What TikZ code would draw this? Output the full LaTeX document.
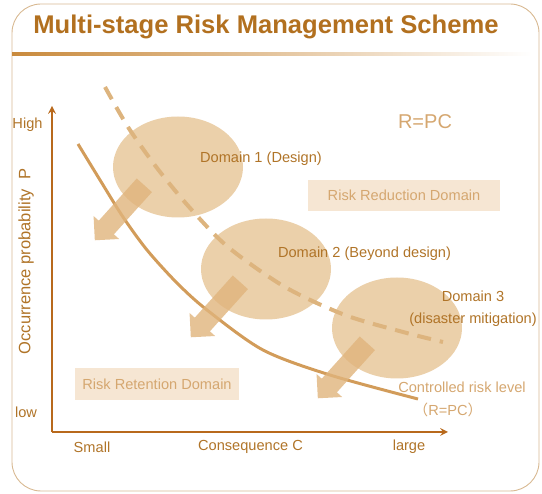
\documentclass[tikz,border=0pt]{standalone}
\usepackage{fontspec}
\setmainfont{Liberation Sans}
\newfontfamily\cjk{Noto Sans CJK SC}
\usetikzlibrary{shapes.geometric,shapes.arrows}
\tikzset{>=stealth}
\definecolor{titlebrown}{HTML}{B2701F}
\definecolor{axisbrown}{HTML}{B8691C}
\definecolor{labelbrown}{HTML}{B07428}
\definecolor{lighttan}{HTML}{D5A770}
\definecolor{boxpeach}{HTML}{F6E6D3}
\definecolor{zonetan}{HTML}{EBD0AA}
\definecolor{dashtan}{HTML}{DDB47E}
\definecolor{curvetan}{HTML}{D29C5A}
\definecolor{pushtan}{HTML}{E0B47C}
\definecolor{frametan}{HTML}{D8B992}
\definecolor{rulebrown}{HTML}{C98A3C}
\newcommand{\lblfont}{\fontsize{14.6pt}{22pt}\selectfont}
\tikzset{
  zone/.style={ellipse, fill=zonetan, minimum width=130pt, minimum height=101pt, inner sep=0pt},
  push/.style={single arrow, fill=pushtan, fill opacity=0.8, minimum height=74pt, minimum width=34pt,
    single arrow head extend=7pt, single arrow tip angle=90, inner xsep=0pt, inner ysep=10pt, rotate=228},
  domlabel/.style={text=labelbrown, font=\lblfont, align=center},
  axlabel/.style={text=labelbrown, font=\lblfont},
  softlabel/.style={text=lighttan, font=\lblfont, align=center},
  domainbox/.style={fill=boxpeach, text=lighttan, font=\lblfont, inner sep=0pt},
  axis/.style={draw=axisbrown, line width=2.4pt}
}

\begin{document}
\begin{tikzpicture}[x=1pt,y=-1pt]
    \useasboundingbox (0,0) rectangle (542,494);
    \draw[frametan, line width=0.9pt, rounded corners=29pt] (12,4) rectangle (539,491);
    \fill[left color=rulebrown, right color=white] (12,52.5) rectangle (532,55.5);
    \node[text=titlebrown, font=\bfseries\fontsize{25.6pt}{30pt}\selectfont] (title) at (266,27) {Multi-stage Risk Management Scheme};

    \node[zone] (zone1) at (178,167) {};
    \node[zone] (zone2) at (266,269) {};
    \node[zone] (zone3) at (397,328) {};

    \draw[dashtan, line width=4pt, dash pattern=on 14pt off 9pt] plot [smooth] coordinates {(105,87) (128,127) (157,168) (190,208) (228,247) (285,287) (345,315) (403,332) (443,342)};
    \draw[curvetan, line width=3pt] plot [smooth] coordinates {(78,144) (100,180) (123,217) (147,250) (177,283) (207,310) (263,350) (330,375) (418,399)};

    \node[push] (push1) at (123,209) {};
    \node[push] (push2) at (219,306) {};
    \node[push] (push3) at (346,367) {};

    \coordinate (origin) at (52,432);
    \coordinate (ytop) at (52,106);
    \coordinate (xend) at (448,432);
    \draw[axis,->] (origin) -- (ytop);
    \draw[axis,->] (origin) -- (xend);

    \node[axlabel] (high) at (27.5,125) {High};
    \node[axlabel] (low) at (26,412) {low};
    \node[axlabel, font=\fontsize{16.5pt}{20pt}\selectfont, rotate=90] (ylabel) at (26,261.5) {Occurrence probability\ \ P};
    \node[axlabel] (small) at (92,447) {Small};
    \node[axlabel] (xlabel) at (250.5,447) {Consequence C};
    \node[axlabel] (large) at (409,447) {large};

    \node[softlabel, font=\fontsize{20pt}{24pt}\selectfont] (formula) at (425,122) {R=PC};
    \node[domlabel] (dom1) at (261,159) {Domain 1 (Design)};
    \node[domlabel] (dom2) at (364.5,254) {Domain 2 (Beyond design)};
    \node[domlabel] (dom3) at (473,309) {Domain 3\\(disaster mitigation)};
    \node[domainbox, minimum width=192pt, minimum height=31pt] (reduction) at (404,195.5) {Risk Reduction Domain};
    \node[domainbox, minimum width=164pt, minimum height=32pt] (retention) at (157,384) {Risk Retention Domain};
    \node[softlabel] (controlled) at (462,387) {Controlled risk level};
    \node[softlabel] (controlledpc) at (448,410) {{\cjk （}R=PC{\cjk ）}};
\end{tikzpicture}
\end{document}
